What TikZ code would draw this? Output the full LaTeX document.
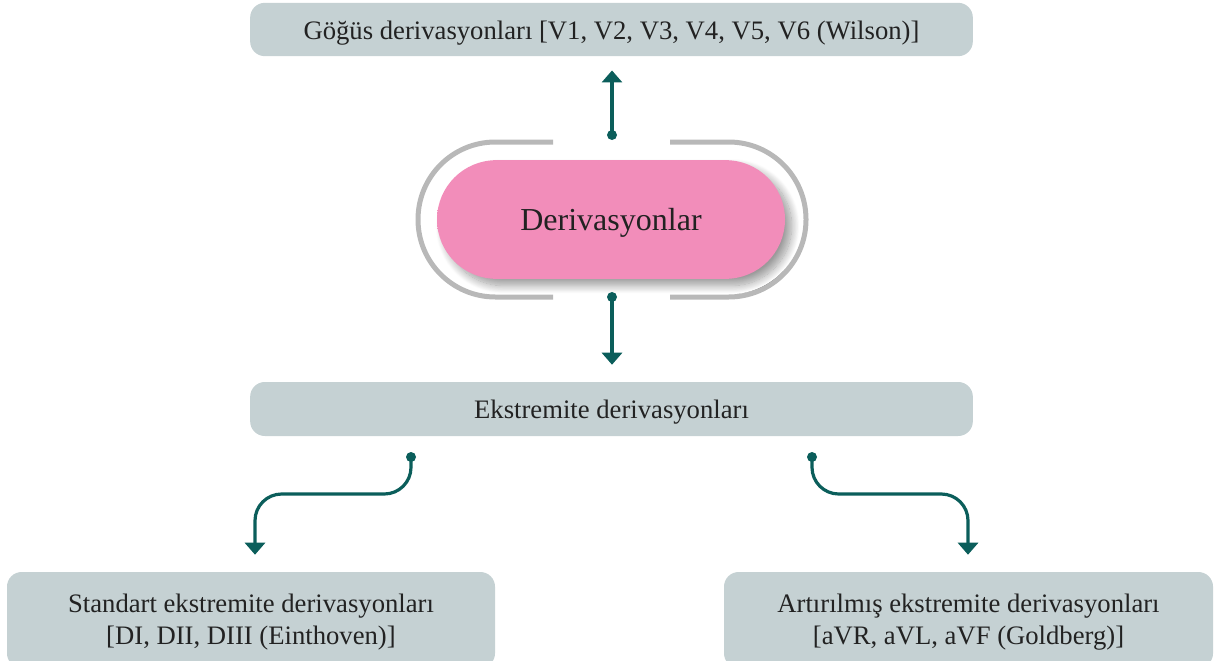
\documentclass[tikz,border=0pt]{standalone}
\usepackage{fontspec}
\setmainfont{Liberation Serif}
\usetikzlibrary{arrows.meta,shadows.blur}
\definecolor{boxc}{HTML}{C5D1D3}
\definecolor{tealc}{HTML}{0B5E5B}
\definecolor{pk}{HTML}{F28DBA}
\definecolor{pkd}{HTML}{B8698B}
\definecolor{brk}{HTML}{B8B8B8}
\definecolor{txt}{HTML}{222222}
\pgfdeclareverticalshading{pillshade}{100bp}{color(0bp)=(pkd); color(18bp)=(pk); color(82bp)=(pk); color(100bp)=(pkd)}
\tikzset{
  box/.style={fill=boxc, rounded corners=11pt, inner sep=0pt},
  lbl/.style={text=txt, font=\fontsize{20}{24}\selectfont, inner sep=0pt, align=center, anchor=base},
  conn/.style={draw=tealc, line width=2.4pt, -{Triangle[width=15pt,length=9pt]}},
  dotc/.style={circle, fill=tealc, minimum size=7.5pt, inner sep=0pt},
  brack/.style={draw=brk, line width=3.75pt, rounded corners=58pt},
}
\begin{document}
\begin{tikzpicture}[x=0.75pt,y=-0.75pt]
\useasboundingbox (0,0) rectangle (1219,660);
% boxes
\node[box, minimum width=542pt, minimum height=40pt] (top) at (611.5,29.5) {};
\node[lbl] (toptxt) at (611.5,40)
  {Göğüs derivasyonları [V1, V2, V3, V4, V5, V6 (Wilson)]};
\node[box, minimum width=542pt, minimum height=40.5pt] (mid) at (611.5,409) {};
\node[lbl] (midtxt) at (611.5,418) {Ekstremite derivasyonları};
\node[box, minimum width=366pt, minimum height=72pt] (bl) at (251,620) {};
\node[lbl] (bltxt) at (251,644)
  {Standart ekstremite derivasyonları\\{}{[DI, DII, DIII (Einthoven)]}};
\node[box, minimum width=366.75pt, minimum height=72pt] (br) at (968.5,620) {};
\node[lbl] (brtxt) at (968.5,644)
  {Artırılmış ekstremite derivasyonları\\{}{[aVR, aVL, aVF (Goldberg)]}};
% brackets
\draw[brack] (553,142) -- (418,142) -- (418,297) -- (553,297);
\draw[brack] (670,142) -- (806,142) -- (806,297) -- (670,297);
% pill
\node[shading=pillshade, rounded corners=44.5pt, minimum width=261pt, minimum height=89pt,
  blur shadow={shadow xshift=5pt, shadow yshift=-5pt, shadow blur steps=14, shadow blur radius=6pt, shadow opacity=40},
  inner sep=0pt] (pill) at (611,219.5) {};
\node[lbl, font=\fontsize{24}{28}\selectfont] (pilltxt) at (611,230) {Derivasyonlar};
% dots
\node[dotc] (d1) at (612,135) {};
\node[dotc] (d2) at (612,297) {};
\node[dotc] (d3) at (411,457) {};
\node[dotc] (d4) at (812,457) {};
% connectors
\draw[conn, shorten >=10.5pt] (d1.center) -- (top.south -| d1);
\draw[conn, shorten >=12.75pt] (d2.center) -- (mid.north -| d2);
\draw[conn, rounded corners=20pt, shorten >=12.75pt] (d3.center) -- (411,494) -- (255,494) -- (bl.north -| 255,0);
\draw[conn, rounded corners=20pt, shorten >=12.75pt] (d4.center) -- (812,494) -- (968,494) -- (br.north -| 968,0);
\end{tikzpicture}
\end{document}
